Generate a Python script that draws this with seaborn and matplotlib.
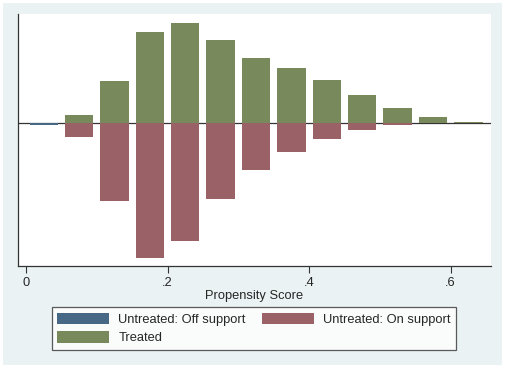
import pandas as pd
import numpy as np
import matplotlib.pyplot as plt
import seaborn as sns

# bin centres of the propensity score histogram
bins = [0.025, 0.075, 0.125, 0.175, 0.225, 0.275, 0.325, 0.375, 0.425, 0.475, 0.525, 0.575, 0.625]
off_support = [-2.5, 0, 0, 0, 0, 0, 0, 0, 0, 0, 0, 0, 0]
on_support = [0, -14, -78.3, -135.7, -118, -76.3, -47.3, -29.3, -16.7, -7.3, -2.3, 0, 0]
treated = [0, 7.7, 41.7, 90.3, 100, 82.3, 65, 54.7, 42.7, 27.7, 14.3, 5.3, 0.6]
groups = ['Untreated: Off support', 'Untreated: On support', 'Treated']
colors = ['#3e6990', '#a3585f', '#7a9155']

data = pd.DataFrame({
    'pscore': bins * 3,
    'density': off_support + on_support + treated,
    'group': np.repeat(groups, len(bins)),
})

sns.set_style('white')
plt.rcParams['font.family'] = ['Liberation Sans', 'DejaVu Sans']

fig = plt.figure(figsize=(5.05, 3.68), dpi=100, facecolor='#eaf2f3')
fig.patch.set_edgecolor('white')
fig.patch.set_linewidth(3)
ax = fig.add_axes([18 / 505, 102 / 368, 473 / 505, 252 / 368])
ax.set_facecolor('white')

sns.barplot(data=data, x='pscore', y='density', hue='group', palette=colors,
            native_scale=True, dodge=False, width=0.8, linewidth=0,
            errorbar=None, ax=ax)

ax.axhline(0, color='#333333', lw=0.9, zorder=0.5)
ax.set_xlim(-0.0113, 0.657)
ax.set_ylim(-143.3, 108.7)
ax.set_xticks([0, 0.2, 0.4, 0.6])
ax.set_xticklabels(['0', '.2', '.4', '.6'], fontsize=9.3)
ax.set_yticks([])
ax.set_xlabel('Propensity Score', fontsize=9.3, labelpad=1)
ax.set_ylabel('')
ax.tick_params(axis='x', bottom=True, length=5, width=0.8, color='#333333', pad=3)
for s in ['top', 'right']:
    ax.spines[s].set_visible(False)
for s in ['left', 'bottom']:
    ax.spines[s].set_color('#333333')
    ax.spines[s].set_linewidth(0.9)

# legend filled row by row like Stata: reorder for matplotlib's column filling
old = ax.get_legend()
handles = list(old.legend_handles)
labels = [t.get_text() for t in old.get_texts()]
old.remove()
order = [0, 2, 1]
leg = ax.legend([handles[i] for i in order], [labels[i] for i in order],
                loc='center', bbox_to_anchor=(0.503, 0.107), bbox_transform=fig.transFigure,
                ncol=2, frameon=True, fancybox=False, fontsize=9.3,
                handlelength=4, handleheight=1.0, handletextpad=0.7,
                columnspacing=1.3, labelspacing=0.4, borderpad=0.45, borderaxespad=0)
leg.get_frame().set_edgecolor('#333333')
leg.get_frame().set_linewidth(0.9)
leg.get_frame().set_facecolor('white')

fig.savefig('out.png', dpi=100, facecolor=fig.get_facecolor(), edgecolor='white')
